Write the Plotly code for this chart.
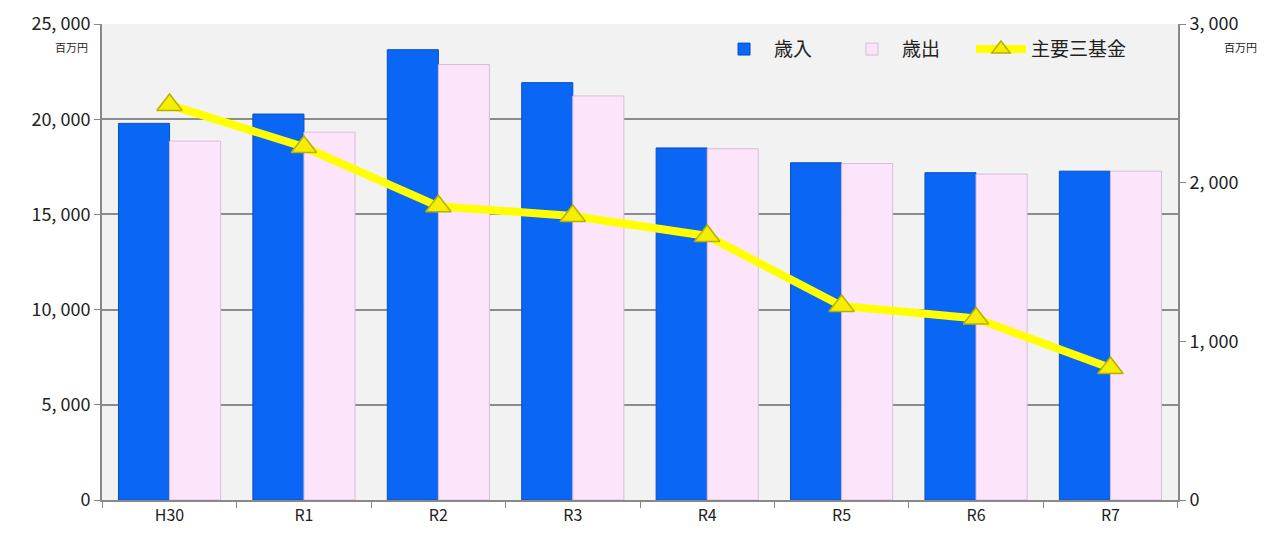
import plotly.graph_objects as go

# data
years = ["H30", "R1", "R2", "R3", "R4", "R5", "R6", "R7"]
revenue = [19780, 20270, 23650, 21920, 18490, 17710, 17190, 17270]      # 歳入 (百万円)
expenditure = [18850, 19320, 22870, 21220, 18450, 17670, 17120, 17270]  # 歳出 (百万円)
funds = [2490, 2225, 1851, 1790, 1664, 1223, 1144, 832]                 # 主要三基金 (百万円)

left_ticks = [0, 5000, 10000, 15000, 20000, 25000]
left_text = ["0", "5, 000", "10, 000", "15, 000", "20, 000", "25, 000"]
right_ticks = [0, 1000, 2000, 3000]
right_text = ["0", "1, 000", "2, 000", "3, 000"]

font_jp = "Noto Sans CJK JP, Noto Sans, sans-serif"

fig = go.Figure()
fig.add_trace(go.Bar(
    x=years, y=revenue, name="歳入", legend="legend",
    marker=dict(color="#0a66f5", line=dict(color="#0a4fc0", width=1)),
))
fig.add_trace(go.Bar(
    x=years, y=expenditure, name="歳出", legend="legend2",
    marker=dict(color="#fce4fa", line=dict(color="#d9bcd6", width=1)),
))
fig.add_trace(go.Scatter(
    x=years, y=funds, name="主要三基金", yaxis="y2", legend="legend3",
    mode="lines+markers",
    line=dict(color="#ffff00", width=8),
    marker=dict(symbol="triangle-up", size=22, color="#f5ee00",
                line=dict(color="#b8b000", width=1.5)),
))

leg = dict(orientation="h", y=0.947, xanchor="left", yanchor="middle",
           bgcolor="rgba(0,0,0,0)", font=dict(size=19), itemwidth=50)

# page body has an 8px margin, so the figure is sized to fit the window
fig.update_layout(
    width=1252, height=520,
    margin=dict(l=94, r=82, t=16, b=28),
    paper_bgcolor="white",
    plot_bgcolor="#f2f2f2",
    barmode="group", bargap=0.24, bargroupgap=0,
    font=dict(family=font_jp, size=17, color="#222222"),
    showlegend=True,
    legend=dict(leg, x=0.5688),
    legend2=dict(leg, x=0.6877),
    legend3=dict(leg, x=0.8076),
    xaxis=dict(
        showline=True, linecolor="#888888", linewidth=2,
        ticks="outside", tickcolor="#888888", ticklen=6,
        tickson="boundaries", showgrid=False, automargin=False,
        tickfont=dict(size=16),
    ),
    yaxis=dict(
        range=[0, 25000], tickvals=left_ticks, ticktext=left_text,
        showline=True, linecolor="#888888", linewidth=2,
        ticks="outside", tickcolor="#888888", ticklen=6,
        showgrid=True, gridcolor="#8c8c8c", gridwidth=1.5,
        zeroline=False, automargin=False, ticklabeloverflow="allow",
        tickfont=dict(size=18),
    ),
    yaxis2=dict(
        range=[0, 3000], tickvals=right_ticks, ticktext=right_text,
        overlaying="y", side="right",
        showline=True, linecolor="#888888", linewidth=2,
        ticks="outside", tickcolor="#888888", ticklen=6,
        showgrid=False, zeroline=False, automargin=False, ticklabeloverflow="allow",
        tickfont=dict(size=18),
    ),
    annotations=[
        dict(text="百万円", xref="paper", yref="paper", x=-0.011, y=0.952,
             xanchor="right", yanchor="middle", showarrow=False, font=dict(size=11)),
        dict(text="百万円", xref="paper", yref="paper", x=1.041, y=0.952,
             xanchor="left", yanchor="middle", showarrow=False, font=dict(size=11)),
    ],
)

fig.write_html("out.html")
